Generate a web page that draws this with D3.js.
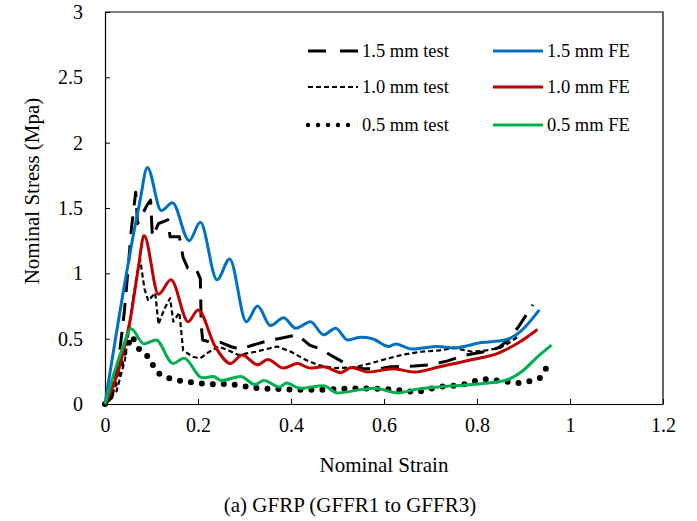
<!DOCTYPE html>
<html>
<head>
<meta charset="utf-8">
<script src="https://cdn.jsdelivr.net/npm/d3@7"></script>
<style>
  body { margin: 0; background: #fff; }
  svg text { font-family: "Liberation Serif", "Times New Roman", serif !important; fill: #000; }
</style>
</head>
<body>
<div id="chart"></div>
<script>
// values: [strain, stress]
const test15 = [[0,0],[0.015,0.05],[0.03,0.35],[0.042,0.72],[0.05,1.05],[0.057,1.35],[0.066,1.62],[0.07,1.38],[0.08,1.45],[0.09,1.52],[0.098,1.56],[0.102,1.28],[0.115,1.38],[0.135,1.41],[0.14,1.28],[0.16,1.28],[0.168,1.12],[0.178,1.04],[0.195,1.04],[0.205,0.96],[0.207,0.6],[0.21,0.49],[0.22,0.48],[0.235,0.47],[0.25,0.47],[0.27,0.44],[0.29,0.42],[0.317,0.45],[0.356,0.49],[0.373,0.5],[0.414,0.53],[0.44,0.45],[0.464,0.42],[0.485,0.375],[0.507,0.33],[0.53,0.28],[0.557,0.27],[0.59,0.27],[0.615,0.285],[0.665,0.29],[0.7,0.3],[0.737,0.33],[0.77,0.37],[0.816,0.4],[0.846,0.43],[0.867,0.49],[0.889,0.59],[0.913,0.72],[0.92,0.76]];
const test10 = [[0,0],[0.025,0.1],[0.043,0.34],[0.06,0.8],[0.075,1.12],[0.085,0.88],[0.093,0.79],[0.108,0.85],[0.115,0.61],[0.128,0.73],[0.14,0.81],[0.147,0.63],[0.16,0.7],[0.168,0.41],[0.19,0.36],[0.205,0.35],[0.22,0.39],[0.244,0.44],[0.266,0.41],[0.287,0.375],[0.324,0.4],[0.37,0.44],[0.4,0.4],[0.43,0.34],[0.457,0.3],[0.49,0.275],[0.535,0.28],[0.57,0.31],[0.61,0.35],[0.643,0.38],[0.68,0.4],[0.72,0.41],[0.75,0.43],[0.79,0.4],[0.82,0.41],[0.85,0.43],[0.87,0.47],[0.89,0.52]];
const test05 = [[0,0],[0.02,0.14],[0.04,0.38],[0.058,0.52],[0.075,0.41],[0.097,0.35],[0.105,0.28],[0.115,0.235],[0.134,0.2],[0.157,0.18],[0.198,0.16],[0.237,0.15],[0.263,0.155],[0.33,0.12],[0.4,0.11],[0.48,0.11],[0.5,0.115],[0.57,0.12],[0.62,0.11],[0.67,0.09],[0.716,0.13],[0.766,0.145],[0.8,0.18],[0.82,0.19],[0.867,0.17],[0.89,0.16],[0.915,0.175],[0.936,0.2],[0.95,0.28]];
const fe15 = [[0,0],[0.075,1.55],[0.091,1.81],[0.121,1.48],[0.145,1.54],[0.181,1.25],[0.205,1.39],[0.241,0.95],[0.268,1.11],[0.304,0.63],[0.328,0.75],[0.356,0.6],[0.384,0.66],[0.41,0.58],[0.442,0.63],[0.47,0.53],[0.496,0.58],[0.522,0.49],[0.55,0.51],[0.575,0.5],[0.61,0.44],[0.625,0.46],[0.66,0.42],[0.716,0.44],[0.75,0.43],[0.81,0.47],[0.86,0.49],[0.895,0.56],[0.934,0.72]];
const fe10 = [[0,0],[0.03,0.27],[0.055,0.66],[0.072,1.05],[0.084,1.29],[0.115,0.84],[0.142,0.95],[0.179,0.63],[0.2,0.72],[0.237,0.44],[0.27,0.31],[0.295,0.375],[0.328,0.3],[0.35,0.34],[0.384,0.275],[0.414,0.31],[0.44,0.275],[0.47,0.285],[0.507,0.24],[0.53,0.28],[0.565,0.245],[0.62,0.27],[0.665,0.245],[0.72,0.285],[0.79,0.34],[0.846,0.39],[0.89,0.47],[0.93,0.57]];
const fe05 = [[0,0],[0.04,0.45],[0.056,0.575],[0.084,0.46],[0.11,0.49],[0.146,0.31],[0.17,0.35],[0.209,0.2],[0.233,0.21],[0.25,0.18],[0.292,0.21],[0.322,0.15],[0.342,0.18],[0.375,0.13],[0.39,0.16],[0.42,0.12],[0.47,0.14],[0.5,0.085],[0.55,0.11],[0.58,0.12],[0.63,0.085],[0.665,0.11],[0.716,0.13],[0.79,0.15],[0.86,0.18],[0.895,0.245],[0.93,0.36],[0.96,0.45]];

const xTicks = [0, 0.2, 0.4, 0.6, 0.8, 1, 1.2];
const yTicks = [0, 0.5, 1, 1.5, 2, 2.5, 3];

const series = [
  { name: "1.5 mm test", data: test15, color: "#000", width: 3, dash: "18,11", curve: d3.curveLinear, cap: "butt" },
  { name: "1.0 mm test", data: test10, color: "#000", width: 2.2, dash: "5,3", curve: d3.curveLinear, cap: "butt" },
  { name: "0.5 mm test", data: test05, color: "#000", width: 6, dash: "0,11", curve: d3.curveLinear, cap: "round" },
  { name: "1.5 mm FE", data: fe15, color: "#0070C0", width: 3, dash: null, curve: d3.curveMonotoneX, cap: "butt" },
  { name: "1.0 mm FE", data: fe10, color: "#C00000", width: 3, dash: null, curve: d3.curveMonotoneX, cap: "butt" },
  { name: "0.5 mm FE", data: fe05, color: "#00B050", width: 3, dash: null, curve: d3.curveMonotoneX, cap: "butt" }
];

const W = 697, H = 521;
const margin = { top: 12, right: 34, bottom: 117, left: 105 };
const width = W - margin.left - margin.right;
const height = H - margin.top - margin.bottom;
const serif = "'Liberation Serif', 'Times New Roman', serif";

const svg = d3.select("#chart").append("svg").attr("width", W).attr("height", H);
svg.append("rect").attr("width", W).attr("height", H).attr("fill", "#fff");

const g = svg.append("g").attr("transform", "translate(" + margin.left + "," + margin.top + ")");

const x = d3.scaleLinear().domain([0, 1.2]).range([0, width]);
const y = d3.scaleLinear().domain([0, 3]).range([height, 0]);

const fmt = d => String(+d.toFixed(1));

// axes, ticks pointing inward
g.append("g")
  .attr("transform", "translate(0," + height + ")")
  .attr("font-family", serif)
  .call(d3.axisBottom(x).tickValues(xTicks).tickFormat(fmt).tickSizeInner(-5).tickSizeOuter(0).tickPadding(14))
  .attr("font-family", serif)
  .call(a => a.select(".domain").attr("stroke-width", 1.2))
  .call(a => a.selectAll("text").style("font-size", "20px"));

g.append("g")
  .call(d3.axisLeft(y).tickValues(yTicks).tickFormat(fmt).tickSizeInner(-5).tickSizeOuter(0).tickPadding(22))
  .attr("font-family", serif)
  .call(a => a.select(".domain").attr("stroke-width", 1.2))
  .call(a => a.selectAll("text").style("font-size", "20px"));

// frame top and right
g.append("path")
  .attr("d", "M0,0H" + width + "V" + height)
  .attr("fill", "none").attr("stroke", "#000").attr("stroke-width", 1.2);

const line = d3.line().x(d => x(d[0])).y(d => y(d[1]));

g.selectAll(".series")
  .data(series)
  .enter()
  .append("path")
  .attr("class", "series")
  .attr("d", s => line.curve(s.curve)(s.data))
  .attr("fill", "none")
  .attr("stroke", s => s.color)
  .attr("stroke-width", s => s.width)
  .attr("stroke-dasharray", s => s.dash)
  .attr("stroke-linecap", s => s.cap)
  .attr("stroke-linejoin", "round");

// legend
const legend = svg.append("g");
const rows = [51, 87, 125];
series.forEach((s, i) => {
  const col = i < 3 ? 0 : 1;
  const ry = rows[i % 3];
  const x0 = col === 0 ? 308 : 493;
  legend.append("line")
    .attr("x1", x0).attr("x2", x0 + 50).attr("y1", ry).attr("y2", ry)
    .attr("stroke", s.color)
    .attr("stroke-width", s.cap === "round" ? 4.5 : s.width)
    .attr("stroke-dasharray", s.cap === "round" ? "0,10" : (i === 0 ? "18,14" : s.dash))
    .attr("stroke-linecap", s.cap);
  legend.append("text")
    .attr("x", x0 + 54).attr("y", ry + 6)
    .style("font-size", "18.5px")
    .text(s.name);
});

// axis titles
svg.append("text")
  .attr("x", margin.left + width / 2).attr("y", 472)
  .attr("text-anchor", "middle").style("font-size", "21px")
  .text("Nominal Strain");

svg.append("text")
  .attr("transform", "translate(39,191) rotate(-90)")
  .attr("text-anchor", "middle").style("font-size", "21px")
  .text("Nominal Stress (Mpa)");

svg.append("text")
  .attr("x", 350).attr("y", 512)
  .attr("text-anchor", "middle").style("font-size", "21px")
  .text("(a) GFRP (GFFR1 to GFFR3)");
</script>
</body>
</html>
